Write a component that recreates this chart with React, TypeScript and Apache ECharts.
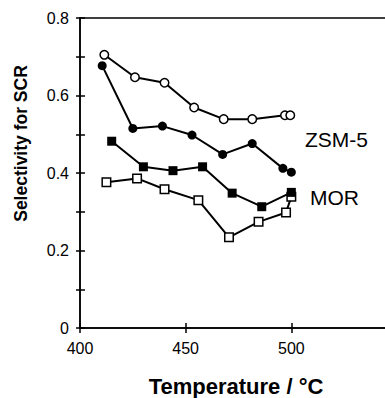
import React, { useEffect, useRef } from "react";
import * as echarts from "echarts";

const zsmOpenX = [411.5, 426, 440, 454, 468, 481.5, 497, 499.5];
const zsmOpenY = [0.705, 0.647, 0.633, 0.569, 0.539, 0.539, 0.549, 0.549];
const zsmFilledX = [410.5, 425, 439, 453, 467.5, 481.5, 496, 500];
const zsmFilledY = [0.677, 0.515, 0.521, 0.498, 0.448, 0.476, 0.412, 0.402];
const morFilledX = [415, 430, 444, 458, 472, 486, 500];
const morFilledY = [0.482, 0.416, 0.406, 0.416, 0.348, 0.313, 0.35];
const morOpenX = [412.5, 427, 440, 456, 470.5, 484.5, 497.5, 500];
const morOpenY = [0.376, 0.386, 0.358, 0.33, 0.234, 0.274, 0.298, 0.339];

const xTickLabels = ["400", "450", "500"];
const yTickLabels = ["0", "0.2", "0.4", "0.6", "0.8"];
const seriesLabels = ["ZSM-5", "MOR"];
const xTitle = "Temperature / °C";
const yTitle = "Selectivity for SCR";

const FONT = "Liberation Sans, Arial, sans-serif";

function pairs(xs: number[], ys: number[]) {
  return xs.map((x, i) => [x, ys[i]]);
}

function mkSeries(name: string, xs: number[], ys: number[], symbol: string, filled: boolean) {
  return {
    name,
    type: "line",
    xAxisIndex: 0,
    yAxisIndex: 0,
    data: pairs(xs, ys),
    symbol,
    symbolSize: filled ? 9 : 8.5,
    showAllSymbol: true,
    lineStyle: { color: "#000", width: 2 },
    itemStyle: {
      color: filled ? "#000" : "#fff",
      borderColor: "#000",
      borderWidth: filled ? 0 : 1.5,
    },
    emphasis: { disabled: true },
    z: filled ? 3 : 2,
  };
}

export default function App() {
  const ref = useRef<HTMLDivElement>(null);
  useEffect(() => {
    if (!ref.current) return;
    const chart = echarts.init(ref.current, undefined, { renderer: "svg" });
    const axisLine = { show: true, lineStyle: { color: "#000", width: 1.5 } };
    const xFmt = (v: number) => {
      const s = String(Math.round(v));
      return xTickLabels.includes(s) ? s : "";
    };
    const yFmt = (v: number) => {
      const r = Math.round(v * 10);
      if (r % 2 !== 0) return "";
      return yTickLabels[r / 2] ?? "";
    };
    chart.setOption({
      animation: false,
      grid: {
        left: 80,
        right: 2,
        top: 18,
        bottom: 70,
        show: true,
        borderColor: "#000",
        borderWidth: 1.5,
        containLabel: false,
      },
      xAxis: [
        {
          type: "value",
          min: 400,
          max: 550,
          interval: 50,
          position: "bottom",
          axisLine,
          axisTick: { show: true, inside: false, length: 5, lineStyle: { color: "#000", width: 1.5 } },
          axisLabel: { formatter: xFmt, color: "#000", fontSize: 16, fontFamily: FONT, margin: 12 },
          splitLine: { show: false },
        },
        {
          type: "value",
          min: 400,
          max: 550,
          interval: 50,
          position: "bottom",
          axisLine: { show: false },
          axisTick: { show: true, inside: true, length: 5, lineStyle: { color: "#000", width: 1.5 } },
          axisLabel: { show: false },
          splitLine: { show: false },
        },
      ],
      yAxis: [
        {
          type: "value",
          min: 0,
          max: 0.8,
          interval: 0.1,
          position: "left",
          axisLine,
          axisTick: { show: true, inside: false, length: 4, lineStyle: { color: "#000", width: 1.5 } },
          axisLabel: { formatter: yFmt, color: "#000", fontSize: 16, fontFamily: FONT, margin: 11 },
          splitLine: { show: false },
        },
        {
          type: "value",
          min: 0,
          max: 0.8,
          interval: 0.1,
          position: "left",
          axisLine: { show: false },
          axisTick: { show: true, inside: true, length: 5, lineStyle: { color: "#000", width: 1.5 } },
          axisLabel: { show: false },
          splitLine: { show: false },
        },
      ],
      series: [
        mkSeries("ZSM-5 open", zsmOpenX, zsmOpenY, "circle", false),
        mkSeries("ZSM-5 filled", zsmFilledX, zsmFilledY, "circle", true),
        mkSeries("MOR open", morOpenX, morOpenY, "rect", false),
        mkSeries("MOR filled", morFilledX, morFilledY, "rect", true),
      ],
      graphic: [
        {
          type: "text",
          x: 305,
          y: 139,
          style: { text: seriesLabels[0], fontSize: 21, fontFamily: FONT, fill: "#000", textAlign: "left", textVerticalAlign: "middle" },
        },
        {
          type: "text",
          x: 310,
          y: 197,
          style: { text: seriesLabels[1], fontSize: 21, fontFamily: FONT, fill: "#000", textAlign: "left", textVerticalAlign: "middle" },
        },
        {
          type: "text",
          x: 236,
          y: 386,
          style: { text: xTitle, fontSize: 22, fontWeight: "bold", fontFamily: FONT, fill: "#000", textAlign: "center", textVerticalAlign: "middle" },
        },
        {
          type: "text",
          x: 21,
          y: 143.5,
          rotation: Math.PI / 2,
          style: { text: yTitle, fontSize: 17.5, fontWeight: "bold", fontFamily: FONT, fill: "#000", textAlign: "center", textVerticalAlign: "middle" },
        },
      ],
    });
    return () => chart.dispose();
  }, []);
  return (
    <div
      ref={ref}
      style={{ position: "fixed", left: 0, top: 0, width: 400, height: 398, background: "#fff" }}
    />
  );
}
